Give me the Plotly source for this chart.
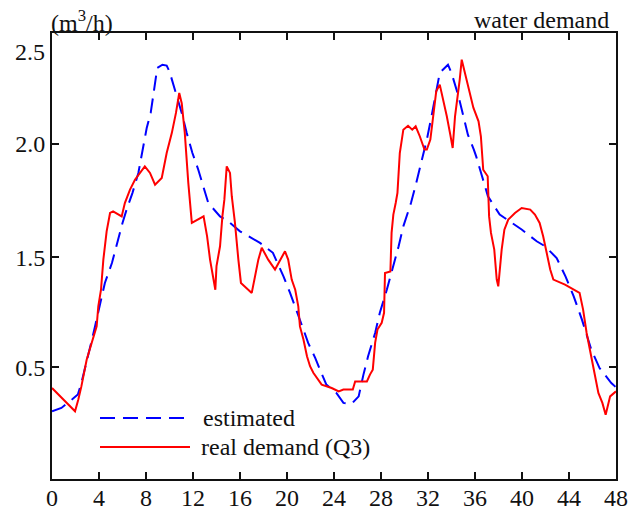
import plotly.graph_objects as go

# ---- data (hours, m3/h on the chart's linear value scale) ----
hours_est = [0, 0.8, 1.7, 2.2, 2.5, 2.95, 3.4, 3.66, 4.1, 4.5, 5.1, 5.6, 6.0, 6.35, 6.85, 7.35,
             7.8, 8.06, 8.4, 8.7, 8.96, 9.4, 9.76, 10.0, 10.3, 10.75, 11.04, 11.46, 11.95, 12.45,
             12.88, 13.3, 14.3, 15.0, 16.0, 17.28, 17.7, 18.8, 19.7, 20.26, 20.8, 21.4, 21.8,
             22.4, 22.95, 23.35, 24.2, 24.8, 25.5, 26.1, 26.5, 26.9, 27.5, 27.9, 28.5, 29.05,
             29.5, 29.9, 30.55, 31.0, 31.5, 31.9, 32.3, 32.6, 33.0, 33.7, 34.0, 34.6, 35.0, 35.4,
             35.9, 36.1, 36.6, 37.1, 38.1, 38.7, 40.0, 41.25, 41.96, 42.95, 43.7, 44.4, 45.1,
             45.9, 46.6, 47.6, 48.0]
estimated = [0.819, 0.834, 0.871, 0.893, 0.944, 1.047, 1.136, 1.194, 1.30, 1.386, 1.474, 1.577,
             1.651, 1.71, 1.784, 1.872, 1.989, 2.07, 2.137, 2.254, 2.336, 2.35, 2.346, 2.32, 2.27,
             2.196, 2.137, 2.049, 1.96, 1.886, 1.813, 1.739, 1.68, 1.658, 1.614, 1.577, 1.563,
             1.519, 1.415, 1.342, 1.268, 1.18, 1.121, 1.055, 0.985, 0.937, 0.90, 0.856, 0.852,
             0.885, 0.98, 1.062, 1.165, 1.254, 1.357, 1.46, 1.548, 1.636, 1.739, 1.828, 1.931,
             2.019, 2.122, 2.21, 2.314, 2.35, 2.314, 2.21, 2.13, 2.04, 1.975, 1.945, 1.857, 1.769,
             1.688, 1.666, 1.621, 1.57, 1.548, 1.496, 1.415, 1.327, 1.224, 1.091, 1.01, 0.944,
             0.925]

hours_real = [0, 1.96, 2.24, 2.5, 2.95, 3.4, 3.8, 3.94, 4.17, 4.37, 4.65, 4.94, 5.2, 5.93, 6.2,
              6.64, 7.06, 7.9, 8.34, 8.77, 9.34, 9.76, 10.2, 10.55, 10.83, 11.04, 11.3, 11.6,
              11.9, 12.9, 13.2, 13.45, 13.7, 13.9, 14.0, 14.3, 14.5, 14.67, 14.87, 15.15, 15.3,
              15.57, 15.86, 16.08, 17.0, 17.28, 17.56, 17.85, 18.4, 18.98, 19.83, 20.1, 20.4,
              20.7, 20.96, 21.1, 21.4, 21.7, 21.96, 22.24, 22.66, 22.95, 23.8, 24.4, 24.8, 25.6,
              25.8, 26.8, 27.06, 27.3, 27.5, 27.7, 28.06, 28.26, 28.34, 28.8, 28.9, 29.05, 29.25,
              29.4, 29.6, 29.9, 30.3, 30.66, 30.95, 31.3, 31.7, 31.9, 32.2, 32.45, 32.7, 33.0,
              33.3, 33.6, 33.9, 34.1, 34.3, 34.6, 34.7, 34.87, 35.1, 35.4, 35.86, 36.3, 36.5,
              36.7, 37.08, 37.2, 37.36, 37.64, 37.85, 37.98, 38.1, 38.27, 38.5, 38.83, 39.4,
              39.97, 40.7, 41.1, 41.5, 41.8, 42.1, 42.4, 42.67, 43.66, 44.9, 45.2, 45.5, 45.9,
              46.2, 46.5, 46.84, 47.12, 47.5, 48.0]
real_demand = [0.922, 0.819, 0.871, 0.929, 1.047, 1.121, 1.194, 1.283, 1.356, 1.489, 1.614, 1.695,
               1.702, 1.68, 1.739, 1.798, 1.842, 1.901, 1.872, 1.82, 1.85, 1.96, 2.049, 2.137,
               2.225, 2.18, 2.049, 1.828, 1.651, 1.68, 1.592, 1.489, 1.415, 1.356, 1.46, 1.548,
               1.68, 1.754, 1.901, 1.872, 1.769, 1.651, 1.489, 1.386, 1.342, 1.415, 1.489, 1.541,
               1.489, 1.445, 1.526, 1.489, 1.401, 1.356, 1.283, 1.194, 1.136, 1.062, 1.018, 0.989,
               0.959, 0.937, 0.922, 0.907, 0.915, 0.915, 0.951, 0.951, 0.981, 1.003, 1.121, 1.18,
               1.21, 1.254, 1.43, 1.437, 1.607, 1.688, 1.739, 1.784, 1.96, 2.063, 2.08, 2.063,
               2.078, 2.034, 1.975, 1.975, 2.019, 2.122, 2.232, 2.262, 2.196, 2.122, 2.04, 1.982,
               2.122, 2.24, 2.284, 2.372, 2.32, 2.254, 2.16, 2.10, 2.034, 1.886, 1.857, 1.68,
               1.607, 1.533, 1.401, 1.371, 1.445, 1.533, 1.621, 1.666, 1.695, 1.717, 1.71, 1.688,
               1.651, 1.592, 1.519, 1.445, 1.401, 1.379, 1.342, 1.268, 1.165, 1.062, 0.973, 0.9,
               0.856, 0.804, 0.885, 0.907]

x_tick_values = list(range(0, 49, 4))
x_tick_labels = [str(v) for v in x_tick_values]
y_tick_positions = [1.013, 1.5, 2.0]
y_tick_labels = ["0.5", "1.5", "2.0"]
y_top_label = "2.5"
y_top_label_pos = 2.405
series_names = ["estimated", "real demand (Q3)"]
series_colors = ["#0000ff", "#ff0000"]

FONT = "Liberation Serif, Times New Roman, serif"
INK = "#111111"
DASH = "15px,8px"

fig = go.Figure()
fig.add_trace(go.Scatter(x=hours_est, y=estimated, mode="lines", name=series_names[0],
                         line=dict(color=series_colors[0], width=2, dash=DASH)))
fig.add_trace(go.Scatter(x=hours_real, y=real_demand, mode="lines", name=series_names[1],
                         line=dict(color=series_colors[1], width=2)))

axis_common = dict(showline=True, linecolor=INK, linewidth=2, mirror="ticks",
                   ticks="inside", ticklen=7, tickwidth=2, tickcolor=INK,
                   showgrid=False, zeroline=False, automargin=False,
                   tickfont=dict(family=FONT, size=24, color=INK))

fig.update_xaxes(range=[0, 48], tickvals=x_tick_values, ticktext=x_tick_labels,
                 ticklabelstandoff=-4, **axis_common)
fig.update_yaxes(range=[0.52, 2.49], tickvals=y_tick_positions, ticktext=y_tick_labels,
                 **axis_common)

W, H = 633, 511
L, R, T, B = 52, 17, 33, 32
pw, ph = W - L - R, H - T - B


def px(xp):
    return (xp - L) / pw


def py(yp):
    return (H - B - yp) / ph


# legend drawn inside the plot area
fig.add_shape(type="line", xref="paper", yref="paper", x0=px(100), x1=px(190), y0=py(418), y1=py(418),
              line=dict(color=series_colors[0], width=2, dash=DASH))
fig.add_shape(type="line", xref="paper", yref="paper", x0=px(100), x1=px(190), y0=py(447), y1=py(447),
              line=dict(color=series_colors[1], width=2))

annos = [
    dict(text=series_names[0], x=px(201), y=py(418), xanchor="left", yanchor="middle"),
    dict(text=series_names[1], x=px(199), y=py(447), xanchor="left", yanchor="middle"),
    dict(text="water demand", x=px(611), y=py(20), xanchor="right", yanchor="middle"),
    dict(text="(m<sup>3</sup>/h)", x=px(49), y=py(21), xanchor="left", yanchor="middle"),
]
for a in annos:
    fig.add_annotation(xref="paper", yref="paper", showarrow=False,
                       font=dict(family=FONT, size=24, color=INK), **a)
fig.add_annotation(xref="paper", yref="y", x=px(47), y=y_top_label_pos, text=y_top_label,
                   xanchor="right", yanchor="middle", showarrow=False,
                   font=dict(family=FONT, size=24, color=INK))

fig.update_layout(template="none", width=W, height=H, margin=dict(l=L, r=R, t=T, b=B),
                  paper_bgcolor="white", plot_bgcolor="white", showlegend=False)

fig.write_html("out.html", config={"displayModeBar": False},
               post_script="document.body.style.margin='0';document.body.style.overflow='hidden';")
